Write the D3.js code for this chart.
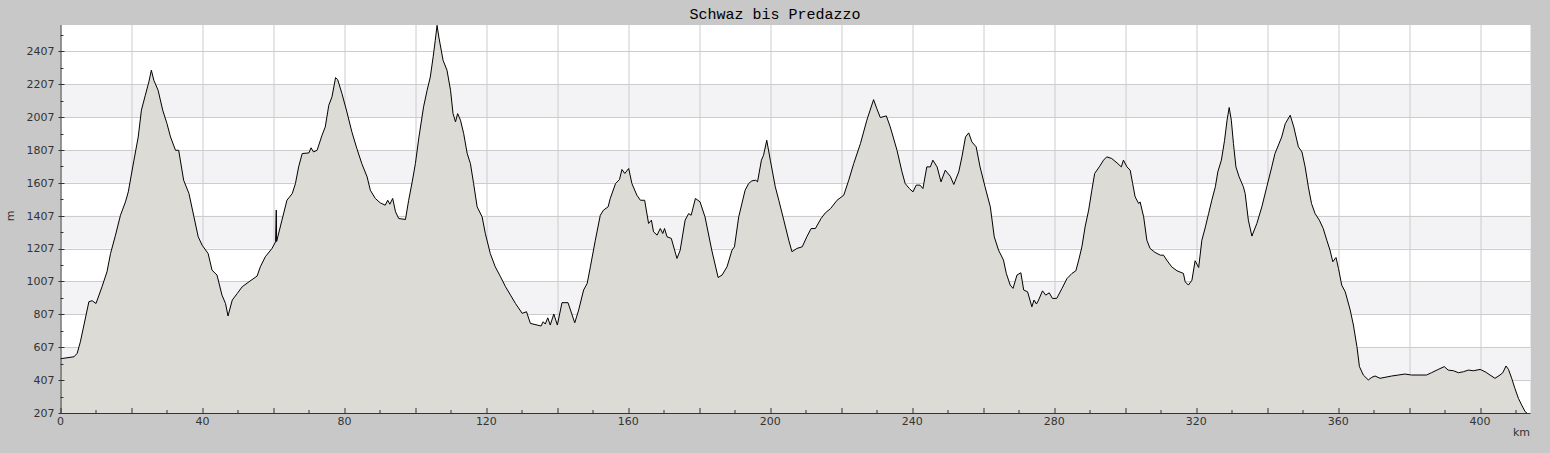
<!DOCTYPE html>
<html>
<head>
<meta charset="utf-8">
<script src="https://cdn.jsdelivr.net/npm/d3@7"></script>
<style>
  html, body { margin: 0; padding: 0; background: #c8c8c8; }
  svg { display: block; }
  .tick-label { font-family: "DejaVu Sans", sans-serif; font-size: 11px; fill: #333; }
</style>
</head>
<body>
<div id="chart"></div>
<script>
var title = "Schwaz bis Predazzo";

// distance along the route (km) and elevation (m)
var distanceKm = [
  0, 3.8, 4.7, 5.6, 8.0, 8.9, 10.0, 11.7, 13.1, 14.1, 15.5, 16.9, 18.3, 19.1, 20.7, 21.9, 22.8, 23.9, 24.9, 25.6,
  26.3, 27.5, 28.8, 30.0, 31.0, 32.4, 33.3, 34.7, 36.2, 37.6, 38.8, 39.9, 41.6, 42.7, 44.1, 45.5, 46.5, 47.2, 48.4, 49.8,
  51.2, 53.1, 55.4, 56.3, 57.7, 59.6, 60.6, 60.8, 60.9, 62.4, 63.8, 65.3, 66.2, 67.1, 68.1, 70.0, 70.6, 71.3, 72.3, 73.7,
  74.6, 75.6, 76.5, 77.5, 78.1, 79.3, 80.7, 82.1, 83.5, 84.9, 86.4, 87.3, 88.7, 90.1, 91.5, 92.2, 92.8, 93.6, 94.4, 95.3,
  97.2, 98.1, 99.1, 100.0, 101.0, 102.3, 103.3, 104.2, 105.0, 105.6, 106.1, 106.6, 107.8, 108.9, 109.9, 110.6, 111.3, 111.9, 112.7, 113.6,
  114.6, 115.5, 116.4, 117.4, 118.8, 119.7, 121.1, 122.5, 124.0, 125.4, 126.8, 128.2, 130.1, 131.3, 132.4, 134.3, 135.4, 136.0, 136.6, 137.3,
  138.0, 139.0, 140.0, 141.3, 143.0, 144.9, 146.0, 147.4, 148.4, 149.3, 150.7, 152.1, 153.0, 154.3, 154.9, 156.4, 157.5, 158.2, 159.0, 160.1,
  161.0, 162.4, 163.4, 164.6, 165.7, 166.5, 167.1, 168.1, 169.0, 169.7, 170.2, 170.9, 172.1, 173.7, 174.6, 176.0, 177.0, 177.7, 178.9, 180.2,
  181.6, 183.5, 185.3, 186.4, 187.8, 189.2, 189.9, 191.1, 192.9, 193.9, 194.8, 195.9, 196.4, 197.5, 198.1, 199.0, 200.0, 201.4, 202.4, 203.8,
  205.2, 206.1, 207.5, 209.0, 210.3, 211.5, 212.7, 214.3, 215.5, 217.0, 218.8, 220.7, 222.1, 223.5, 225.4, 227.2, 229.1, 230.0, 231.0, 232.7,
  233.8, 235.7, 237.1, 238.0, 239.2, 240.2, 241.1, 242.2, 243.0, 244.1, 245.1, 245.8, 247.0, 248.1, 249.3, 250.7, 251.7, 253.1, 254.0, 255.0,
  255.9, 256.8, 258.0, 259.1, 260.5, 262.0, 263.1, 264.3, 265.7, 266.5, 267.6, 268.4, 269.5, 270.6, 271.4, 272.5, 273.7, 274.3, 275.0, 275.6,
  276.7, 277.6, 278.6, 279.5, 280.7, 282.2, 283.6, 285.0, 286.1, 286.9, 287.8, 288.7, 289.7, 290.6, 291.4, 292.7, 293.9, 294.8, 296.2, 297.7,
  298.9, 299.5, 300.5, 301.4, 302.1, 302.8, 303.8, 304.2, 305.2, 306.1, 307.0, 308.4, 309.9, 310.8, 311.7, 313.1, 314.6, 316.4, 316.9, 317.8,
  318.8, 319.7, 320.7, 321.6, 322.6, 323.5, 324.4, 325.4, 326.1, 327.1, 328.0, 328.7, 329.3, 329.9, 330.5, 331.2, 332.1, 333.3, 333.8, 334.7,
  335.7, 337.1, 338.5, 339.9, 341.3, 342.2, 344.1, 345.1, 346.5, 347.5, 348.8, 349.8, 350.7, 351.6, 352.5, 353.5, 354.7, 355.8, 356.8, 357.7,
  358.5, 359.4, 360.1, 361.0, 362.0, 363.4, 364.3, 365.3, 366.0, 367.1, 368.5, 369.5, 370.4, 371.8, 373.2, 375.1, 377.0, 378.8, 380.7, 384.9,
  386.3, 388.2, 389.9, 391.0, 392.5, 393.9, 395.3, 396.7, 398.1, 400.0, 401.4, 402.8, 404.2, 405.6, 406.4, 407.3, 408.0, 408.9, 409.8, 410.8,
  411.7, 412.7, 413.2
];
var elevationM = [
  537, 549, 570, 640, 884, 890, 873, 975, 1066, 1177, 1289, 1410, 1491, 1552, 1745, 1886, 2049, 2140, 2221, 2292,
  2231, 2170, 2049, 1967, 1886, 1805, 1805, 1623, 1542, 1400, 1279, 1228, 1177, 1076, 1046, 924, 873, 797, 894, 934,
  975, 1005, 1040, 1096, 1157, 1208, 1248, 1441, 1250, 1380, 1501, 1542, 1603, 1704, 1785, 1789, 1820, 1795, 1805, 1897,
  1947, 2079, 2130, 2247, 2235, 2150, 2038, 1917, 1816, 1724, 1643, 1562, 1512, 1485, 1471, 1501, 1477, 1512, 1431, 1390,
  1384, 1501, 1613, 1724, 1886, 2069, 2170, 2251, 2373, 2474, 2565, 2494, 2352, 2292, 2170, 2028, 1978, 2028, 1988, 1907,
  1785, 1724, 1603, 1461, 1400, 1299, 1177, 1096, 1035, 975, 924, 873, 813, 823, 752, 742, 736, 762, 748, 786,
  742, 809, 742, 878, 878, 756, 833, 955, 995, 1096, 1258, 1410, 1441, 1461, 1512, 1603, 1627, 1688, 1664, 1694,
  1603, 1532, 1501, 1501, 1360, 1380, 1309, 1289, 1329, 1299, 1329, 1279, 1269, 1147, 1197, 1380, 1420, 1410, 1512, 1491,
  1400, 1198, 1031, 1046, 1096, 1197, 1218, 1400, 1562, 1603, 1619, 1623, 1613, 1745, 1775, 1866, 1745, 1583, 1501, 1380,
  1258, 1188, 1208, 1218, 1279, 1329, 1329, 1390, 1424, 1451, 1501, 1532, 1623, 1724, 1846, 1988, 2113, 2059, 2004, 2014,
  1947, 1805, 1674, 1603, 1572, 1552, 1593, 1593, 1572, 1704, 1704, 1745, 1704, 1613, 1684, 1647, 1597, 1674, 1765, 1886,
  1911, 1856, 1826, 1704, 1583, 1461, 1279, 1198, 1137, 1056, 985, 965, 1046, 1060, 955, 944, 853, 894, 870, 894,
  950, 924, 938, 904, 904, 965, 1025, 1056, 1072, 1137, 1218, 1339, 1441, 1562, 1664, 1704, 1745, 1765, 1755, 1728,
  1704, 1745, 1704, 1684, 1603, 1522, 1481, 1491, 1400, 1258, 1208, 1184, 1167, 1167, 1137, 1096, 1072, 1056, 1005, 985,
  1015, 1133, 1092, 1258, 1339, 1420, 1501, 1583, 1674, 1745, 1866, 1988, 2065, 1988, 1846, 1704, 1643, 1583, 1542, 1380,
  1283, 1360, 1461, 1583, 1704, 1785, 1886, 1967, 2018, 1947, 1826, 1795, 1704, 1583, 1481, 1420, 1380, 1329, 1258, 1198,
  1127, 1153, 1086, 985, 944, 833, 742, 610, 489, 438, 408, 424, 432, 418, 424, 432, 438, 444, 438, 438,
  452, 472, 489, 468, 464, 452, 458, 468, 464, 472, 458, 438, 418, 438, 452, 493, 472, 418, 357, 296,
  256, 215, 207
];

var xLabelTicks = [0, 40, 80, 120, 160, 200, 240, 280, 320, 360, 400];
var xGridTicks = d3.range(0, 401, 20);
var xMinorTicks = d3.range(10, 411, 20);
var yTicks = [207, 407, 607, 807, 1007, 1207, 1407, 1607, 1807, 2007, 2207, 2407];
var yMinorTicks = [307, 507, 707, 907, 1107, 1307, 1507, 1707, 1907, 2107, 2307, 2507];

var width = 1550, height = 453;
var margin = { top: 25, right: 19.5, bottom: 40, left: 60.5 };
var innerW = width - margin.left - margin.right;
var innerH = height - margin.top - margin.bottom;

var data = distanceKm.map(function (d, i) {
  return { km: d, m: elevationM[i] };
});

var x = d3.scaleLinear().domain([0, 414.2]).range([0, innerW]);
var y = d3.scaleLinear().domain([207, 2567]).range([innerH, 0]);

var svg = d3.select("#chart")
  .append("svg")
  .attr("width", width)
  .attr("height", height);

svg.append("rect")
  .attr("width", width)
  .attr("height", height)
  .attr("fill", "#c8c8c8");

svg.append("text")
  .attr("x", width / 2)
  .attr("y", 19)
  .attr("text-anchor", "middle")
  .attr("font-family", "'Liberation Mono', 'DejaVu Sans Mono', monospace")
  .attr("font-size", "15px")
  .attr("fill", "#000")
  .text(title);

var g = svg.append("g")
  .attr("transform", "translate(" + margin.left + "," + margin.top + ")");

// plot background
g.append("rect")
  .attr("width", innerW)
  .attr("height", innerH)
  .attr("fill", "#ffffff");

// alternating bands
var bands = [];
for (var i = 1; i < yTicks.length - 1; i += 2) {
  bands.push([yTicks[i], yTicks[i + 1]]);
}
g.append("g")
  .selectAll("rect")
  .data(bands)
  .enter()
  .append("rect")
  .attr("x", 0)
  .attr("width", innerW)
  .attr("y", (d) => y(d[1]))
  .attr("height", (d) => y(d[0]) - y(d[1]))
  .attr("fill", "#f3f2f5");

// grid
g.append("g")
  .selectAll("line")
  .data(xGridTicks.slice(1))
  .enter()
  .append("line")
  .attr("x1", (d) => Math.round(x(d)) + 0.5)
  .attr("x2", (d) => Math.round(x(d)) + 0.5)
  .attr("y1", 0)
  .attr("y2", innerH)
  .attr("stroke", "#cccccc");

g.append("g")
  .selectAll("line")
  .data(yTicks.slice(1))
  .enter()
  .append("line")
  .attr("x1", 0)
  .attr("x2", innerW)
  .attr("y1", (d) => Math.round(y(d)) + 0.5)
  .attr("y2", (d) => Math.round(y(d)) + 0.5)
  .attr("stroke", "#cccccc");

// profile
var area = d3.area()
  .x((d) => x(d.km))
  .y0(innerH)
  .y1((d) => y(d.m));

var line = d3.line()
  .x((d) => x(d.km))
  .y((d) => y(d.m));

g.append("path")
  .datum(data)
  .attr("d", area)
  .attr("fill", "#dcdbd6");

g.append("path")
  .datum(data)
  .attr("d", line)
  .attr("fill", "none")
  .attr("stroke", "#000")
  .attr("stroke-width", 1);

// axes
var xAxis = g.append("g").attr("transform", "translate(0," + innerH + ")");
xAxis.append("line")
  .attr("x1", 0).attr("x2", innerW)
  .attr("y1", 0.5).attr("y2", 0.5)
  .attr("stroke", "#333");
xAxis.selectAll(".major")
  .data(xGridTicks)
  .enter()
  .append("line")
  .attr("x1", (d) => Math.round(x(d)) + 0.5)
  .attr("x2", (d) => Math.round(x(d)) + 0.5)
  .attr("y1", 0)
  .attr("y2", -5)
  .attr("stroke", "#333");
xAxis.selectAll(".minor")
  .data(xMinorTicks)
  .enter()
  .append("line")
  .attr("x1", (d) => Math.round(x(d)) + 0.5)
  .attr("x2", (d) => Math.round(x(d)) + 0.5)
  .attr("y1", 0)
  .attr("y2", -3)
  .attr("stroke", "#333");
xAxis.selectAll("text")
  .data(xLabelTicks)
  .enter()
  .append("text")
  .attr("class", "tick-label")
  .attr("x", (d) => x(d))
  .attr("y", 12)
  .attr("text-anchor", "middle")
  .text((d) => d);

svg.append("text")
  .attr("class", "tick-label")
  .attr("x", 1530)
  .attr("y", 436)
  .attr("text-anchor", "end")
  .text("km");

var yAxis = g.append("g");
yAxis.append("line")
  .attr("x1", 0.5).attr("x2", 0.5)
  .attr("y1", 0).attr("y2", innerH)
  .attr("stroke", "#333");
yAxis.selectAll(".major")
  .data(yTicks)
  .enter()
  .append("line")
  .attr("x1", -2)
  .attr("x2", 4)
  .attr("y1", (d) => Math.round(y(d)) + 0.5)
  .attr("y2", (d) => Math.round(y(d)) + 0.5)
  .attr("stroke", "#333");
yAxis.selectAll(".minor")
  .data(yMinorTicks)
  .enter()
  .append("line")
  .attr("x1", 0)
  .attr("x2", 3)
  .attr("y1", (d) => Math.round(y(d)) + 0.5)
  .attr("y2", (d) => Math.round(y(d)) + 0.5)
  .attr("stroke", "#333");
yAxis.selectAll("text")
  .data(yTicks)
  .enter()
  .append("text")
  .attr("class", "tick-label")
  .attr("x", -6)
  .attr("y", (d) => y(d))
  .attr("dy", "0.35em")
  .attr("text-anchor", "end")
  .text((d) => d);

svg.append("text")
  .attr("class", "tick-label")
  .attr("transform", "translate(14,216) rotate(-90)")
  .attr("text-anchor", "middle")
  .text("m");
</script>
</body>
</html>
